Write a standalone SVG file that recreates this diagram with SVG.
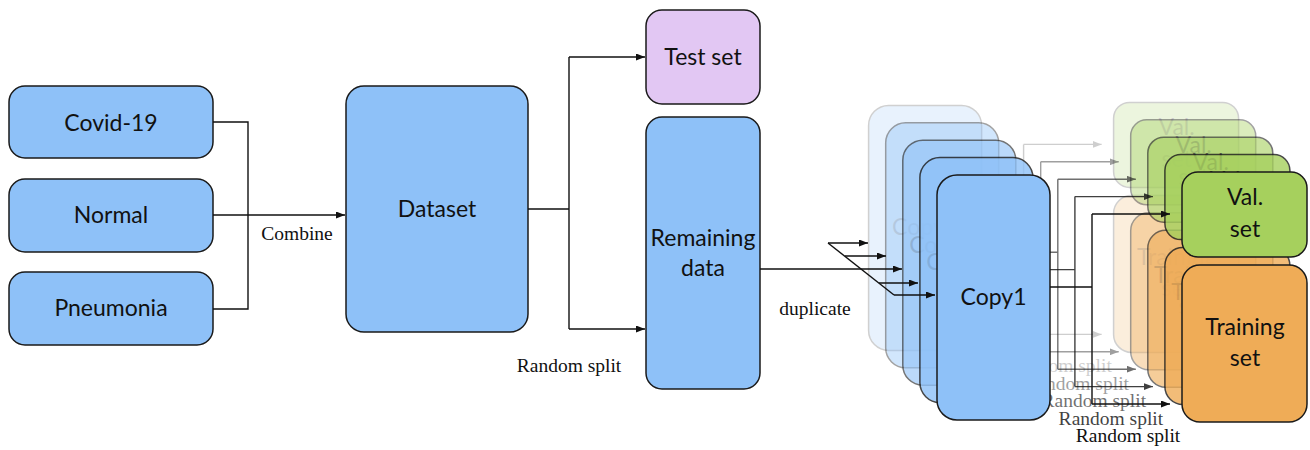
<svg xmlns="http://www.w3.org/2000/svg" width="1310" height="450" viewBox="0 0 1310 450">
  <defs>
    <marker id="ah" markerUnits="userSpaceOnUse" markerWidth="9" markerHeight="7" refX="9" refY="3.5" orient="auto">
      <path d="M0,0 L9,3.5 L0,7 z" fill="#111"/>
    </marker>
    <style>
      .box { stroke: #1a1a1a; stroke-width: 1.5; }
      .blue { fill: #8ec1f8; }
      .purple { fill: #e2c7f3; }
      .green { fill: #a6d05d; }
      .orange { fill: #efac57; }
      .lbl { font-family: Lato, "Noto Sans", sans-serif; font-size: 23px; text-anchor: middle; fill: #111; }
      .note { font-family: "Liberation Serif", serif; font-size: 19.5px; text-anchor: middle; fill: #111; }
      .wire { fill: none; stroke: #111; stroke-width: 1.4; }
      .arr { marker-end: url(#ah); }
    </style>
  </defs>

  <rect width="1310" height="450" fill="#ffffff"/>

  <!-- source classes -->
  <g id="covid">
    <rect class="box blue" x="9" y="86" width="204" height="72" rx="16"/>
    <text class="lbl" x="111" y="131">Covid-19</text>
  </g>
  <g id="normal">
    <rect class="box blue" x="9" y="179" width="204" height="73" rx="16"/>
    <text class="lbl" x="111" y="223">Normal</text>
  </g>
  <g id="pneumonia">
    <rect class="box blue" x="9" y="272" width="204" height="73" rx="16"/>
    <text class="lbl" x="111" y="316">Pneumonia</text>
  </g>

  <g id="dataset">
    <rect class="box blue" x="346" y="86" width="182" height="246" rx="18"/>
    <text class="lbl" x="437" y="217">Dataset</text>
  </g>

  <g id="test-set">
    <rect class="box purple" x="646" y="10" width="114" height="94" rx="16"/>
    <text class="lbl" x="703" y="65">Test set</text>
  </g>

  <g id="remaining">
    <rect class="box blue" x="646" y="117" width="114" height="272" rx="16"/>
    <text class="lbl" x="703" y="246">Remaining</text>
    <text class="lbl" x="703" y="276">data</text>
  </g>

  <!-- duplicated fold layers, back to front -->
  <g id="fold-5" opacity="0.2" transform="translate(-68.4,-69.6)">
    <g id="copy5"><rect class="box blue" x="937" y="175" width="113" height="245" rx="20"/><text class="lbl" x="993.5" y="305">Copy5</text></g>
    <g class="wire"><path d="M1050,287 H1092 M1092,214 V404"/><path class="arr" d="M1092,214 H1170"/><path class="arr" d="M1092,404 H1170"/></g>
    <g id="val5"><rect class="box green" x="1182" y="172" width="125" height="85" rx="16"/><text class="lbl" x="1245" y="205">Val.</text><text class="lbl" x="1245" y="237">set</text></g>
    <g id="train5"><rect class="box orange" x="1182" y="265" width="125" height="157" rx="18"/><text class="lbl" x="1245" y="335">Training</text><text class="lbl" x="1245" y="366">set</text></g>
    <text class="note" x="1128" y="442">Random split</text>
  </g>
  <g id="fold-4" opacity="0.4" transform="translate(-51.3,-52.2)">
    <g id="copy4"><rect class="box blue" x="937" y="175" width="113" height="245" rx="20"/><text class="lbl" x="993.5" y="305">Copy4</text></g>
    <g class="wire"><path d="M1050,287 H1092 M1092,214 V404"/><path class="arr" d="M1092,214 H1170"/><path class="arr" d="M1092,404 H1170"/></g>
    <g id="val4"><rect class="box green" x="1182" y="172" width="125" height="85" rx="16"/><text class="lbl" x="1245" y="205">Val.</text><text class="lbl" x="1245" y="237">set</text></g>
    <g id="train4"><rect class="box orange" x="1182" y="265" width="125" height="157" rx="18"/><text class="lbl" x="1245" y="335">Training</text><text class="lbl" x="1245" y="366">set</text></g>
    <text class="note" x="1128" y="442">Random split</text>
  </g>
  <g id="fold-3" opacity="0.6" transform="translate(-34.2,-34.8)">
    <g id="copy3"><rect class="box blue" x="937" y="175" width="113" height="245" rx="20"/><text class="lbl" x="993.5" y="305">Copy3</text></g>
    <g class="wire"><path d="M1050,287 H1092 M1092,214 V404"/><path class="arr" d="M1092,214 H1170"/><path class="arr" d="M1092,404 H1170"/></g>
    <g id="val3"><rect class="box green" x="1182" y="172" width="125" height="85" rx="16"/><text class="lbl" x="1245" y="205">Val.</text><text class="lbl" x="1245" y="237">set</text></g>
    <g id="train3"><rect class="box orange" x="1182" y="265" width="125" height="157" rx="18"/><text class="lbl" x="1245" y="335">Training</text><text class="lbl" x="1245" y="366">set</text></g>
    <text class="note" x="1128" y="442">Random split</text>
  </g>
  <g id="fold-2" opacity="0.8" transform="translate(-17.1,-17.4)">
    <g id="copy2"><rect class="box blue" x="937" y="175" width="113" height="245" rx="20"/><text class="lbl" x="993.5" y="305">Copy2</text></g>
    <g class="wire"><path d="M1050,287 H1092 M1092,214 V404"/><path class="arr" d="M1092,214 H1170"/><path class="arr" d="M1092,404 H1170"/></g>
    <g id="val2"><rect class="box green" x="1182" y="172" width="125" height="85" rx="16"/><text class="lbl" x="1245" y="205">Val.</text><text class="lbl" x="1245" y="237">set</text></g>
    <g id="train2"><rect class="box orange" x="1182" y="265" width="125" height="157" rx="18"/><text class="lbl" x="1245" y="335">Training</text><text class="lbl" x="1245" y="366">set</text></g>
    <text class="note" x="1128" y="442">Random split</text>
  </g>
  <g id="fold-1">
    <g id="copy1"><rect class="box blue" x="937" y="175" width="113" height="245" rx="20"/><text class="lbl" x="993.5" y="305">Copy1</text></g>
    <g class="wire"><path d="M1050,287 H1092 M1092,214 V404"/><path class="arr" d="M1092,214 H1170"/><path class="arr" d="M1092,404 H1170"/></g>
    <g id="val1"><rect class="box green" x="1182" y="172" width="125" height="85" rx="16"/><text class="lbl" x="1245" y="205">Val.</text><text class="lbl" x="1245" y="237">set</text></g>
    <g id="train1"><rect class="box orange" x="1182" y="265" width="125" height="157" rx="18"/><text class="lbl" x="1245" y="335">Training</text><text class="lbl" x="1245" y="366">set</text></g>
    <text class="note" x="1128" y="442">Random split</text>
  </g>

  <!-- connectors -->
  <g id="connectors" class="wire">
    <path d="M213,122 H248 V309 H213"/>
    <path class="arr" d="M213,215 H345"/>
    <path d="M528,209 H569 M569,57 V329"/>
    <path class="arr" d="M569,57 H645"/>
    <path class="arr" d="M569,329 H645"/>
    <path class="arr" d="M760,269 H902"/>
    <path d="M828,243 L894,295"/>
    <path class="arr" d="M828,243 H868"/>
    <path class="arr" d="M845,256 H886"/>
    <path class="arr" d="M879,283 H918"/>
    <path class="arr" d="M894,295 H935"/>
  </g>

  <text class="note" x="297" y="240">Combine</text>
  <text class="note" x="569" y="372">Random split</text>
  <text class="note" x="815" y="315">duplicate</text>
</svg>
